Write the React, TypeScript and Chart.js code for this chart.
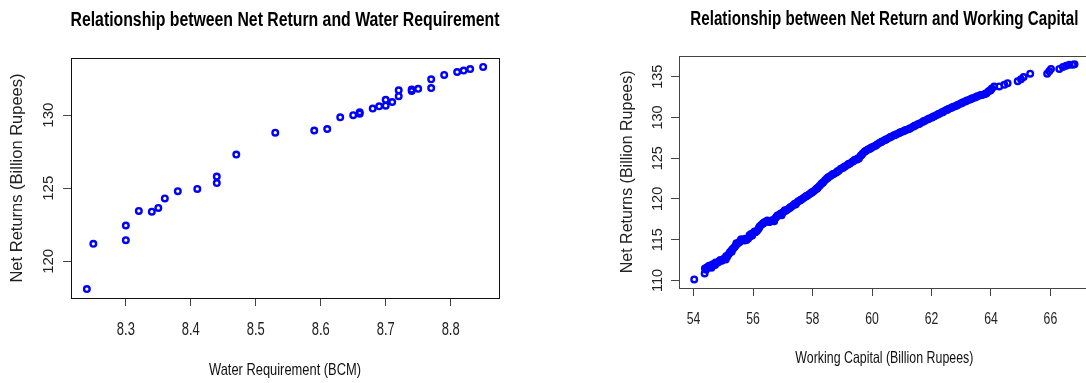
import { useEffect, useRef } from 'react';
import { Chart, registerables } from 'chart.js';

Chart.register(...registerables);

// ---------- Data: Net Return vs Water Requirement ----------
const waterRequirement = [
  8.24, 8.25, 8.30, 8.30, 8.32, 8.34, 8.35, 8.36, 8.38, 8.41, 8.44, 8.44, 8.47,
  8.53, 8.59, 8.61, 8.63, 8.65, 8.66, 8.66, 8.68, 8.69, 8.70, 8.70, 8.71, 8.72,
  8.72, 8.74, 8.74, 8.75, 8.77, 8.77, 8.79, 8.81, 8.82, 8.83, 8.85,
];
const netReturnWater = [
  118.1, 121.2, 122.45, 121.45, 123.45, 123.4, 123.65, 124.3, 124.8, 124.95, 125.8, 125.35, 127.3,
  128.8, 128.95, 129.05, 129.85, 130.0, 130.1, 130.2, 130.45, 130.6, 130.65, 131.05, 130.9, 131.7,
  131.3, 131.65, 131.75, 131.8, 132.45, 131.85, 132.75, 132.95, 133.05, 133.15, 133.3,
];
const waterTicks = [8.3, 8.4, 8.5, 8.6, 8.7, 8.8];
const waterReturnTicks = [120, 125, 130];

// ---------- Data: Net Return vs Working Capital ----------
const workingCapital = [
  54.02, 54.37, 54.38, 54.45, 54.52, 54.58, 54.63, 54.68, 54.72, 54.77, 54.82, 54.86, 54.9, 54.95,
  55.0, 55.05, 55.08, 55.13, 55.18, 55.22, 55.26, 55.3, 55.34, 55.38, 55.42, 55.46, 55.5, 55.55,
  55.6, 55.66, 55.72, 55.78, 55.83, 55.88, 55.93, 55.97, 56.02, 56.08, 56.13, 56.18, 56.22, 56.27,
  56.32, 56.37, 56.42, 56.48, 56.54, 56.6, 56.66, 56.71, 56.76, 56.82, 56.88, 56.93, 56.99, 57.04,
  57.1, 57.16, 57.22, 57.28, 57.34, 57.4, 57.46, 57.52, 57.58, 57.64, 57.7, 57.76, 57.82, 57.88,
  57.94, 58.0, 58.06, 58.12, 58.18, 58.24, 58.3, 58.36, 58.42, 58.48, 58.54, 58.6, 58.66, 58.72,
  58.8, 58.88, 58.95, 59.02, 59.1, 59.18, 59.26, 59.34, 59.42, 59.5, 59.56, 59.62, 59.68, 59.74,
  59.8, 59.86, 59.92, 59.98, 60.04, 60.1, 60.18, 60.26, 60.34, 60.42, 60.5, 60.58, 60.66, 60.74,
  60.82, 60.9, 60.98, 61.06, 61.14, 61.22, 61.3, 61.38, 61.46, 61.54, 61.62, 61.7, 61.78, 61.86,
  61.94, 62.02, 62.1, 62.18, 62.26, 62.34, 62.42, 62.5, 62.58, 62.66, 62.74, 62.82, 62.9, 62.98,
  63.06, 63.14, 63.22, 63.3, 63.38, 63.46, 63.54, 63.62, 63.7, 63.78, 63.86, 63.92, 63.98, 64.03,
  64.11, 64.28, 64.45, 64.56, 64.9, 65.01, 65.1, 65.32, 65.89, 65.96, 66.02, 66.3, 66.42, 66.53,
  66.64, 66.75, 66.81,
  54.42, 54.6, 54.74, 55.1, 55.28, 55.44, 55.57, 55.74, 55.9, 56.05, 56.2, 56.35, 56.57, 56.79,
  56.96, 57.07, 57.25, 57.43, 57.61, 57.79, 57.97, 58.15, 58.33, 58.51, 58.69, 58.84, 59.06, 59.22,
  59.38, 59.53, 59.65, 59.77, 59.95, 60.14, 60.3, 60.46, 60.62, 60.78, 60.94, 61.1, 61.26, 61.42,
  61.58, 61.74, 61.9, 62.06, 62.22, 62.38, 62.54, 62.7, 62.86, 63.02, 63.18, 63.34, 63.5, 63.66,
  63.82, 64.0,
];
const netReturnCapital = [
  110.12, 110.85, 111.45, 111.6, 111.8, 111.75, 111.95, 112.0, 111.9, 112.15, 112.2, 112.35, 112.5, 112.4,
  112.6, 112.75, 112.55, 112.9, 113.2, 113.45, 113.6, 113.8, 113.95, 114.1, 114.3, 114.45, 114.6, 114.7,
  115.05, 115.0, 114.9, 114.95, 115.1, 115.55, 115.7, 115.5, 115.85, 115.9, 116.05, 116.3, 116.6, 116.8,
  116.95, 117.1, 117.2, 117.35, 117.15, 117.3, 117.4, 117.25, 117.7, 117.95, 118.05, 118.2, 118.3, 118.45,
  118.55, 118.7, 118.85, 119.05, 119.2, 119.4, 119.5, 119.7, 119.8, 119.95, 120.1, 120.25, 120.4, 120.55,
  120.7, 120.85, 121.0, 121.2, 121.4, 121.6, 121.85, 122.05, 122.3, 122.5, 122.7, 122.8, 122.95, 123.1,
  123.25, 123.45, 123.7, 123.8, 124.0, 124.2, 124.35, 124.55, 124.8, 124.85, 124.95, 125.3, 125.55, 125.75,
  125.9, 126.05, 126.15, 126.3, 126.4, 126.5, 126.7, 126.9, 127.05, 127.2, 127.35, 127.5, 127.65, 127.8,
  127.95, 128.05, 128.2, 128.3, 128.45, 128.55, 128.7, 128.85, 129.0, 129.15, 129.3, 129.45, 129.6, 129.75,
  129.9, 130.0, 130.15, 130.3, 130.45, 130.6, 130.75, 130.9, 131.05, 131.15, 131.3, 131.4, 131.55, 131.7,
  131.85, 131.95, 132.1, 132.2, 132.35, 132.45, 132.6, 132.7, 132.75, 132.85, 133.0, 133.2, 133.3, 133.55,
  133.8, 133.8, 134.0, 134.2, 134.45, 134.7, 134.95, 135.37, 135.37, 135.66, 135.95, 135.95, 136.2, 136.35,
  136.48, 136.48, 136.52,
  111.3, 111.55, 112.2, 113.0, 113.5, 114.55, 114.85, 115.1, 115.4, 116.0, 116.45, 117.0, 117.2, 117.8,
  118.0, 118.6, 118.95, 119.3, 119.9, 120.35, 120.8, 121.25, 121.95, 122.55, 123.05, 123.4, 123.9, 124.3,
  124.65, 125.0, 125.4, 125.85, 126.2, 126.6, 126.95, 127.25, 127.6, 127.85, 128.15, 128.4, 128.6, 128.95,
  129.2, 129.55, 129.8, 130.1, 130.4, 130.65, 130.95, 131.25, 131.5, 131.75, 132.05, 132.3, 132.5, 132.75,
  132.9, 133.4,
];
const capitalTicks = [54, 56, 58, 60, 62, 64, 66];
const capitalReturnTicks = [110, 115, 120, 125, 130, 135];

const REG = "'Liberation Sans', Arial, Helvetica, sans-serif";

type Layout = {
  top: number;
  yWidth: number;
  padRight: number;
  titleSize: number;
  titleWidth: number;
  titleBaseline: number;
  xHeight: number;
  xTickSize: number;
  xTickSquish: number;
  xTickBaseline: number;
  xTitleSize: number;
  xTitleWidth: number;
  xTitleBaseline: number;
  yTitleSize: number;
  yTitlePadTop: number;
  yTickX: number;
  yTickSize: number;
  boxColor: string;
};

function rRange(vals: number[]) {
  const mn = Math.min(...vals);
  const mx = Math.max(...vals);
  const d = (mx - mn) * 0.04;
  return [mn - d, mx + d];
}

function buildConfig(
  title: string,
  xTitle: string,
  yTitle: string,
  xs: number[],
  ys: number[],
  xTicks: number[],
  yTicks: number[],
  L: Layout
): any {
  const [xMin, xMax] = rRange(xs);
  const [yMin, yMax] = rRange(ys);
  const points = xs.map((x, i) => ({ x, y: ys[i] }));

  const frame = {
    id: 'frame',
    afterDatasetsDraw(chart: any) {
      const { ctx, chartArea } = chart;
      ctx.save();
      // plot box
      ctx.strokeStyle = L.boxColor;
      ctx.lineWidth = 1;
      const l = Math.round(chartArea.left) + 0.5;
      const t = Math.round(chartArea.top) + 0.5;
      const r = Math.round(chartArea.right) + 0.5;
      const b = Math.round(chartArea.bottom) + 0.5;
      ctx.strokeRect(l, t, r - l, b - t);

      const cx = (chartArea.left + chartArea.right) / 2;

      // main title (condensed like the reference)
      ctx.fillStyle = '#000';
      ctx.textAlign = 'center';
      ctx.textBaseline = 'alphabetic';
      ctx.font = `bold ${L.titleSize}px ${REG}`;
      ctx.fillText(title, cx, L.titleBaseline, L.titleWidth);

      // x tick labels
      const xs = chart.scales.x;
      ctx.fillStyle = '#222';
      ctx.font = `${L.xTickSize}px ${REG}`;
      xs.ticks.forEach((tk: any) => {
        const px = xs.getPixelForValue(tk.value);
        const txt = String(tk.value);
        const w = ctx.measureText(txt).width * L.xTickSquish;
        ctx.fillText(txt, px, L.xTickBaseline, w);
      });

      // x axis title
      ctx.fillStyle = '#111';
      ctx.font = `${L.xTitleSize}px ${REG}`;
      ctx.fillText(xTitle, cx, L.xTitleBaseline, L.xTitleWidth);

      // rotated y tick labels (parallel to axis)
      const yscale = chart.scales.y;
      ctx.fillStyle = '#222';
      ctx.font = `${L.yTickSize}px ${REG}`;
      ctx.textBaseline = 'middle';
      yscale.ticks.forEach((tk: any) => {
        const py = yscale.getPixelForValue(tk.value);
        ctx.save();
        ctx.translate(L.yTickX, py);
        ctx.rotate(-Math.PI / 2);
        ctx.fillText(String(tk.value), 0, 0);
        ctx.restore();
      });
      ctx.restore();
    },
  };

  return {
    type: 'scatter',
    data: {
      datasets: [
        {
          data: points,
          showLine: false,
          pointStyle: 'circle',
          pointRadius: 2.8,
          pointHoverRadius: 2.8,
          pointBorderWidth: 2.4,
          borderColor: '#0000ff',
          backgroundColor: 'rgba(0,0,0,0)',
        },
      ],
    },
    options: {
      responsive: false,
      maintainAspectRatio: false,
      animation: false,
      devicePixelRatio: 1,
      events: [],
      layout: { padding: { left: 0, right: L.padRight, top: L.top, bottom: 0 } },
      plugins: {
        legend: { display: false },
        tooltip: { enabled: false },
        title: { display: false },
      },
      scales: {
        x: {
          type: 'linear',
          position: 'bottom',
          min: xMin,
          max: xMax,
          afterBuildTicks: (s: any) => {
            s.ticks = xTicks.map((v) => ({ value: v }));
          },
          afterFit: (s: any) => {
            s.height = L.xHeight;
          },
          ticks: { display: false },
          grid: {
            drawOnChartArea: false,
            drawTicks: true,
            tickLength: 8,
            color: '#444',
          },
          border: { display: false },
          title: { display: false },
        },
        y: {
          type: 'linear',
          position: 'left',
          min: yMin,
          max: yMax,
          afterBuildTicks: (s: any) => {
            s.ticks = yTicks.map((v) => ({ value: v }));
          },
          afterFit: (s: any) => {
            s.width = L.yWidth;
          },
          ticks: { display: false },
          grid: {
            drawOnChartArea: false,
            drawTicks: true,
            tickLength: 8,
            color: '#444',
          },
          border: { display: false },
          title: {
            display: true,
            text: yTitle,
            color: '#222',
            font: { family: REG, size: L.yTitleSize, lineHeight: 1.2 },
            padding: { top: L.yTitlePadTop, bottom: 0 },
          },
        },
      },
    },
    plugins: [frame],
  };
}

const leftLayout: Layout = {
  top: 58,
  yWidth: 71,
  padRight: 61,
  titleSize: 20,
  titleWidth: 429,
  titleBaseline: 26,
  xHeight: 85,
  xTickSize: 17.5,
  xTickSquish: 0.74,
  xTickBaseline: 335,
  xTitleSize: 17,
  xTitleWidth: 152,
  xTitleBaseline: 375,
  yTitleSize: 16.5,
  yTitlePadTop: 7.1,
  yTickX: 49,
  yTickSize: 15,
  boxColor: '#111',
};

const rightLayout: Layout = {
  top: 55.7,
  yWidth: 119,
  padRight: 10.3,
  titleSize: 19.3,
  titleWidth: 388,
  titleBaseline: 25,
  xHeight: 95,
  xTickSize: 17,
  xTickSquish: 0.72,
  xTickBaseline: 324,
  xTitleSize: 16.5,
  xTitleWidth: 178,
  xTitleBaseline: 363,
  yTitleSize: 16,
  yTitlePadTop: 57.9,
  yTickX: 97.7,
  yTickSize: 14.5,
  boxColor: '#444',
};

export default function App() {
  const leftRef = useRef<HTMLCanvasElement>(null);
  const rightRef = useRef<HTMLCanvasElement>(null);

  useEffect(() => {
    const a = new Chart(
      leftRef.current as HTMLCanvasElement,
      buildConfig(
        'Relationship between Net Return and Water Requirement',
        'Water Requirement (BCM)',
        'Net Returns (Billion Rupees)',
        waterRequirement,
        netReturnWater,
        waterTicks,
        waterReturnTicks,
        leftLayout
      )
    );
    const b = new Chart(
      rightRef.current as HTMLCanvasElement,
      buildConfig(
        'Relationship between Net Return and Working Capital',
        'Working Capital (Billion Rupees)',
        'Net Returns (Billion Rupees)',
        workingCapital,
        netReturnCapital,
        capitalTicks,
        capitalReturnTicks,
        rightLayout
      )
    );
    return () => {
      a.destroy();
      b.destroy();
    };
  }, []);

  return (
    <div
      style={{
        position: 'absolute',
        left: 0,
        top: 0,
        width: 1086,
        height: 383,
        overflow: 'hidden',
        background: '#fff',
      }}
    >
      <canvas
        ref={leftRef}
        width={560}
        height={383}
        style={{ position: 'absolute', left: 0, top: 0, width: 560, height: 383 }}
      />
      <canvas
        ref={rightRef}
        width={540}
        height={383}
        style={{ position: 'absolute', left: 560, top: 0, width: 540, height: 383 }}
      />
    </div>
  );
}
